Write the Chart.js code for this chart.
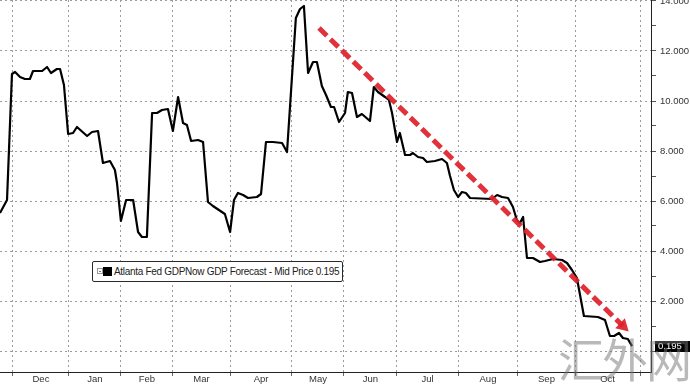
<!DOCTYPE html>
<html>
<head>
<meta charset="utf-8">
<script src="https://cdn.jsdelivr.net/npm/chart.js@4.4.0/dist/chart.umd.min.js"></script>
<style>
body { margin: 0; background: #fff; }
#wrap { position: relative; width: 690px; height: 387px; overflow: hidden; }
#legendBox { position: absolute; left: 92px; top: 261px; width: 251px; height: 21px; box-sizing: border-box;
    border: 1px solid #2a2a2a; border-radius: 2px; background: #fff; }
#legendBox .collapse { position: absolute; left: 4px; top: 6px; width: 6px; height: 6px; box-sizing: border-box; border: 1px solid #999; }
#legendBox .collapse:after { content: ""; position: absolute; left: 1px; top: 1.5px; width: 2px; height: 1px; background: #777; }
#legendBox .swatch { position: absolute; left: 10px; top: 5px; width: 9px; height: 9px; background: #000; }
#legendText { position: absolute; left: 21px; top: 3px; font: 10px "Liberation Sans"; letter-spacing: -0.3px;
    line-height: 13px; color: #222; white-space: nowrap; }
#watermark { position: absolute; left: 558px; top: 334px; font: 400 46px "Noto Sans CJK SC"; color: rgba(115,115,115,0.5);
    letter-spacing: -2px; line-height: 1; white-space: nowrap; }
</style>
</head>
<body>
<div id="wrap">
    <canvas id="gdpChart" width="690" height="387"></canvas>
    <div id="legendBox"><span class="collapse"></span><span class="swatch"></span><span id="legendText"></span></div>
    <div id="watermark">汇外网</div>
</div>
<script>
// x = session number on Bloomberg's observation axis (late Nov 2020 = 0), y = GDPNow estimate in %
var sessionIdx = [0, 2.7, 4.6, 5.8, 7.7, 9.6, 11.5, 12.7, 16.2, 18.1, 19.6, 21.9, 23.1, 24.6, 26.2, 28.1, 29.6, 33.5, 35.4, 37.7,
    39.6, 42.3, 44.2, 45, 46.5, 48.5, 51.2, 53.1, 54.6, 56.5, 58.5, 60.4, 62.3, 64.6, 66.5, 68.5, 70.4, 71.9, 73.5, 76.2,
    78.1, 80, 81.9, 86.5, 88.5, 90, 91.5, 93.5, 95.4, 98.8, 100.4, 102.3, 105, 108.5, 110.4, 113.8, 115.4, 116.9, 118.5, 120.4,
    121.9, 123.8, 125.4, 127.3, 128.5, 130.4, 132.7, 133.8, 135.4, 137.3, 139.2, 142.3, 143.8, 145.4, 148.1, 149.6, 150.8, 152.7, 153.8, 155.8,
    157.7, 158.8, 160.8, 162.7, 164.2, 167.3, 170, 171.9, 173.1, 174.6, 176.2, 177.7, 179.2, 180.8, 189.2, 191.2, 193.1, 195.4, 197.3, 198.8,
    200, 201.2, 202.7, 205, 207.7, 209.6, 212.7, 216.2, 218.1, 220, 221.9, 224.6, 230, 232.7, 234.6, 236.2, 238.1, 239.6, 241.5, 243.1];
var gdpNow = [5.52, 6.04, 11.08, 11.16, 10.96, 10.88, 10.88, 11.2, 11.2, 11.36, 11.12, 11.28, 11.28, 10.64, 8.68, 8.72, 8.96, 8.6, 8.76, 8.8,
    7.52, 7.6, 7.24, 6.72, 5.2, 6.04, 6.04, 4.76, 4.56, 4.56, 9.52, 9.52, 9.64, 9.68, 8.8, 10.16, 9.12, 9.04, 8.4, 8.44,
    8.36, 5.96, 5.8, 5.48, 4.76, 6.04, 6.32, 6.24, 6.12, 6.16, 6.28, 8.36, 8.36, 8.32, 7.96, 13.32, 13.68, 13.8, 11.12, 11.56,
    11.56, 10.6, 10.24, 9.76, 9.76, 9.16, 9.52, 10.36, 10.32, 9.36, 9.48, 9.2, 10.56, 10.36, 10.16, 10.04, 9.52, 8.36, 8.72, 7.84,
    7.84, 7.92, 7.76, 7.72, 7.56, 7.6, 7.68, 7.52, 7.0, 6.44, 6.16, 6.36, 6.32, 6.12, 6.08, 6.24, 6.16, 6.12, 5.76, 5.24,
    5.12, 5.36, 3.72, 3.72, 3.56, 3.6, 3.68, 3.64, 3.52, 3.24, 2.92, 1.4, 1.36, 1.24, 0.6, 0.6, 0.72, 0.52, 0.48, 0.195];

var monthLabels = ['Dec', 'Jan', 'Feb', 'Mar', 'Apr', 'May', 'Jun', 'Jul', 'Aug', 'Sep', 'Oct'];
var monthStarts = [5, 26.5, 46.5, 66.5, 88.5, 112.3, 132.3, 152.7, 176.2, 199.2, 221.2, 246.2];
var yTicks = [0, 1, 2, 3, 4, 5, 6, 7, 8, 9, 10, 11, 12, 13, 14];

// red dashed trend arrow
var trendX = [122.7, 239.6];
var trendY = [12.92, 1.0];

var seriesName = 'Atlanta Fed GDPNow GDP Forecast - Mid Price';
var lastValue = gdpNow[gdpNow.length - 1];

Chart.defaults.font.family = '"Liberation Sans", Arial, sans-serif';

var monthMids = [];
var labelAt = new Map();
for (let i = 0; i < monthLabels.length; i++) {
    let m = (monthStarts[i] + monthStarts[i + 1]) / 2;
    monthMids.push(m);
    labelAt.set(m, monthLabels[i]);
}
var startSet = new Set(monthStarts);
var xTickValues = monthStarts.concat(monthMids).sort((a, b) => a - b);

var lastValueTag = {
    id: 'lastValueTag',
    afterDraw(chart) {
        const ctx = chart.ctx;
        const yScale = chart.scales.y;
        const y = Math.round(yScale.getPixelForValue(lastValue));
        const x = yScale.left + 4;
        ctx.save();
        ctx.fillStyle = '#000';
        ctx.fillRect(x, y - 5, 40, 11);
        ctx.fillStyle = '#fff';
        ctx.font = '9.5px "Liberation Sans"';
        ctx.textBaseline = 'middle';
        ctx.fillText(lastValue.toFixed(3), x + 3, y + 0.5);
        ctx.restore();
    }
};

document.getElementById('legendText').textContent = seriesName + ' ' + lastValue.toFixed(3);

const ctx = document.getElementById('gdpChart');

new Chart(ctx, {
    type: 'line',
    data: {
        datasets: [{
            label: 'trend',
            data: trendX.map((x, i) => ({ x: x, y: trendY[i] })),
            borderColor: 'rgba(222,32,42,0.92)',
            borderWidth: 5,
            borderDash: [11, 5],
            pointRadius: [0, 8],
            pointStyle: 'triangle',
            pointRotation: 134,
            pointBackgroundColor: 'rgba(222,32,42,0.92)',
            pointBorderWidth: 0,
            order: 0
        }, {
            label: seriesName,
            data: sessionIdx.map((x, i) => ({ x: x, y: gdpNow[i] })),
            borderColor: '#000',
            borderWidth: 2.2,
            borderJoinStyle: 'round',
            pointRadius: 0,
            tension: 0,
            order: 1
        }]
    },
    options: {
        responsive: false,
        animation: false,
        devicePixelRatio: 1,
        layout: { padding: 0, autoPadding: false },
        plugins: {
            legend: { display: false },
            tooltip: { enabled: false }
        },
        scales: {
            x: {
                type: 'linear',
                min: 0,
                max: 250.4,
                bounds: 'data',
                afterBuildTicks: (scale) => { scale.ticks = xTickValues.map(v => ({ value: v })); },
                afterFit: (scale) => { scale.height = 15; scale.paddingLeft = 0; scale.paddingRight = 0; },
                grid: {
                    color: (c) => startSet.has(c.tick.value) ? '#9c9c9c' : 'rgba(0,0,0,0)',
                    tickColor: (c) => startSet.has(c.tick.value) ? '#666' : 'rgba(0,0,0,0)',
                    tickLength: 4,
                    lineWidth: 1
                },
                border: { display: true, color: '#222', width: 1, dash: [2, 3] },
                ticks: {
                    autoSkip: false,
                    maxRotation: 0,
                    minRotation: 0,
                    padding: -2,
                    color: '#333',
                    font: { size: 9.5 },
                    callback: (v) => labelAt.get(v) || ''
                }
            },
            y: {
                type: 'linear',
                position: 'right',
                min: -0.84,
                max: 14.04,
                bounds: 'data',
                afterBuildTicks: (scale) => { scale.ticks = yTicks.map(v => ({ value: v })); },
                afterFit: (scale) => { scale.width = 39; scale.paddingTop = 0; scale.paddingBottom = 0; },
                grid: {
                    color: (c) => c.tick.value % 2 === 0 ? '#9c9c9c' : 'rgba(0,0,0,0)',
                    tickColor: '#555',
                    tickLength: 5,
                    lineWidth: 1
                },
                border: { display: true, color: '#222', width: 1, dash: [2, 3] },
                ticks: {
                    padding: 4,
                    color: '#333',
                    font: { size: 9.5 },
                    // 0 is hidden behind the last-price tag
                    callback: (v) => (v % 2 === 0 && v !== 0) ? v.toFixed(3) : ''
                }
            }
        }
    },
    plugins: [lastValueTag]
});
</script>
</body>
</html>
